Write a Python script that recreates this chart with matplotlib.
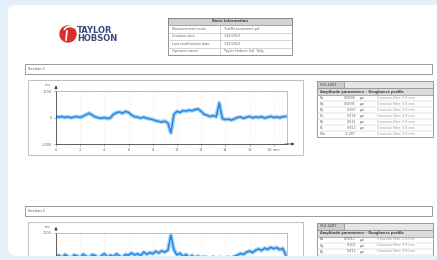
import numpy as np
import matplotlib
matplotlib.use("Agg")
import matplotlib.pyplot as plt
from matplotlib.patches import Rectangle, FancyBboxPatch, Circle, Arc

W, H = 437, 260
BG = '#e5eff9'
BLUE = '#2388e2'
CARD_BOTTOM = 256

# ---- data ----
positions_mm = np.arange(77) * 0.25
profile_1 = [30, 10, 40, 0, 25, -10, 20, 35, 5, 50, 110,
             160, 90, 20,
             -10, -30, 0, -40, -15,
             120, 180, 210, 160, 230, 190,
             90, 30, 10, -20, 15, -30, -50, -80,
             -120, -150, -170, -140, -210,
             -580,
             120,
             230, 190, 260, 240, 280, 250, 300, 320,
             230, 120, 80, 40, 70, 30,
             550,
             -40, -80, -60, -100, -50,
             0, 20, -30, 10, 40, -10, 20, 0, 30, -20, 10, 40, 0, 20, -10, 30, 40]
profile_2 = [80, 140, 40, 170, 90, 20, 150, 110, 60, 180, 100,
             50, 160, 130, 30, 120, 200, 70, 140, 90, 190,
             110, 60, 170, 140, 230, 150, 200, 120, 260, 180,
             240, 200, 290, 230, 310, 260, 330,
             900,
             350,
             150, 220, 90, 170, 60, 130, 40, 110, 20, 90, 50,
             0, 80, -20, 60, -40, 30, 70, 10, 100,
             140, 210, 170, 260, 300, 240, 330, 380, 320, 410, 360, 440, 390,
             430, 350, 400, 150]
x_ticks = [0, 2, 4, 6, 8, 10, 12, 14, 16, 18]
x_tick_labels = ['0', '2', '4', '6', '8', '10', '12', '14', '16', '18 mm']
y_ticks = [-1000, 0, 1000]
y_tick_labels = ['-1000', '0', '1000']

info_title = 'Basic information'
info_labels = ['Measurement name', 'Creation date', 'Last modification date', 'Operator name']
info_values = ['TestMeasurement.prf', '1/16/2013', '1/16/2013', 'Taylor Hobson Ltd  Tally']

section_titles = ['Section 1', 'Section 2']
param_names = ['Ra', 'Rq', 'Rp', 'Rv', 'Rz', 'Rt', 'Rsk']
param_units = ['µm', 'µm', 'µm', 'µm', 'µm', 'µm', '']
param_values_1 = ['0.0694', '0.0891', '0.357', '0.274', '0.631', '0.912', '-0.287']
param_values_2 = ['0.0812', '0.101', '0.412', '0.305', '0.717', '1.02', '0.154']
param_filter = 'Gaussian filter, 0.8 mm'

fig = plt.figure(figsize=(W / 100, H / 100), dpi=100)
fig.patch.set_facecolor(BG)
ax = fig.add_axes([0, 0, 1, 1])
ax.set_xlim(0, W)
ax.set_ylim(H, 0)
ax.axis('off')

ax.add_patch(FancyBboxPatch((8, 5), 440, 251, boxstyle='round,pad=0,rounding_size=8',
                            fc='white', ec='none'))

# logo
ax.add_patch(Circle((68, 34), 8, color='#d8302e'))
ax.add_patch(Arc((70, 31), 12, 9, theta1=190, theta2=330, color='white', lw=1.2))
ax.plot([67, 66], [31, 40], color='white', lw=1.2)
ax.text(77, 30.5, 'TAYLOR', fontsize=6, weight='bold', color='#3a4a7c', va='center')
ax.text(77, 38.5, 'HOBSON', fontsize=6, weight='bold', color='#3a4a7c', va='center')
ax.text(72, 15, '- - - - - - - - - - -', fontsize=3, color='#e2e2e2', va='center')

# info table
ax.add_patch(Rectangle((168, 18), 124, 37, fc='white', ec='#808080', lw=0.6))
ax.add_patch(Rectangle((168, 18), 124, 7, fc='#d2d2d2', ec='#808080', lw=0.6))
ax.text(230, 21.5, info_title, fontsize=2.6, weight='bold', ha='center', va='center', color='#444')
for i, (lab, val) in enumerate(zip(info_labels, info_values)):
    y = 25 + i * 7.5
    ax.plot([168, 292], [y, y], color='#b5b5b5', lw=0.4)
    ax.text(172, y + 3.8, lab, fontsize=2.4, va='center', color='#666')
    ax.text(224, y + 3.8, val, fontsize=2.4, va='center', color='#666')
ax.plot([220, 220], [25, 55], color='#b5b5b5', lw=0.4)


def draw_section(dy, title, values, params):
    # title bar
    ax.add_patch(Rectangle((25, 64 + dy), 407, 10, fc='white', ec='#8a8a8a', lw=0.6))
    ax.text(28, 69 + dy, title, fontsize=2.6, va='center', color='#555')
    ax.add_patch(Rectangle((28, 80 + dy), 275, 75, fc='white', ec='#b4b4b4', lw=0.6))

    # parameter table
    ax.add_patch(Rectangle((317, 81 + dy), 116, 56, fc='white', ec='#8a8a8a', lw=0.6))
    ax.add_patch(Rectangle((317, 81 + dy), 116, 7, fc='#e6e6e6', ec='#8a8a8a', lw=0.5))
    ax.add_patch(Rectangle((317, 81 + dy), 27, 7, fc='#cdcdcd', ec='#8a8a8a', lw=0.5))
    ax.text(320, 84.5 + dy, 'ISO 4287', fontsize=2.6, va='center', color='#444')
    ax.add_patch(Rectangle((317, 88 + dy), 116, 7, fc='#dcdcdc', ec='#8a8a8a', lw=0.5))
    ax.text(320, 91.5 + dy, 'Amplitude parameters - Roughness profile', fontsize=2.5,
            weight='bold', va='center', color='#444')
    for i, (n, v, u) in enumerate(zip(param_names, params, param_units)):
        y = 95 + dy + i * 6
        ax.plot([317, 433], [y, y], color='#c8c8c8', lw=0.35)
        if y + 5 > CARD_BOTTOM:
            continue
        ax.text(320, y + 3, n, fontsize=2.4, va='center', color='#666')
        ax.text(356, y + 3, v, fontsize=2.4, va='center', ha='right', color='#666')
        ax.text(360, y + 3, u, fontsize=2.4, va='center', color='#666')
        ax.text(377, y + 3, param_filter, fontsize=2.3, va='center', color='#999')
    if 148 + dy < CARD_BOTTOM:
        ax.text(317, 148 + dy, '- - - - - - - -', fontsize=3, color='#e6e6e6', va='center')

    # profile plot
    top = 91 + dy
    full = top + 53 < CARD_BOTTOM
    pa = fig.add_axes([56 / W, 1 - (top + 53) / H, 231 / W, 53 / H])
    pa.set_facecolor('none')
    pa.plot(positions_mm, values, color='#a9d2f5', lw=3.0, solid_joinstyle='round')
    pa.plot(positions_mm, values, color=BLUE, lw=1.1)
    pa.set_xlim(0, 19.1)
    pa.set_ylim(-1000, 1000)
    pa.set_xticks(x_ticks)
    pa.set_xticklabels(x_tick_labels if full else [''] * len(x_ticks))
    pa.set_yticks(y_ticks)
    pa.set_yticklabels(y_tick_labels if full else ['', '', y_tick_labels[2]])
    pa.tick_params(length=1.5, width=0.4, labelsize=2.5, pad=1.5, colors='#666')
    pa.grid(True, color='#efd9c8', lw=0.4, ls=':')
    for s in ['left', 'bottom']:
        pa.spines[s].set_color('#444')
        pa.spines[s].set_linewidth(0.6)
    for s in ['top', 'right']:
        pa.spines[s].set_color('#a8a8a8')
        pa.spines[s].set_linewidth(0.5)
    pa.annotate('', xy=(0, 1.16), xytext=(0, 0.98), xycoords='axes fraction',
                arrowprops=dict(arrowstyle='-|>', lw=0.6, color='#444', mutation_scale=4))
    if full:
        pa.annotate('', xy=(1.045, 0), xytext=(0.98, 0), xycoords='axes fraction',
                    arrowprops=dict(arrowstyle='-|>', lw=0.6, color='#444', mutation_scale=4))
    pa.text(-0.025, 1.11, 'nm', transform=pa.transAxes, fontsize=2.5, ha='right',
            va='center', color='#666')


draw_section(0, section_titles[0], profile_1, param_values_1)
ax.text(30, 200, '- - -', fontsize=3, color='#e2e2e2', va='center')
draw_section(141.5, section_titles[1], profile_2, param_values_2)

# bottom edge of the card
ov = fig.add_axes([0, 0, 1, 1], zorder=10)
ov.set_xlim(0, W)
ov.set_ylim(H, 0)
ov.axis('off')
ov.add_patch(Rectangle((0, CARD_BOTTOM), W, 5, fc=BG, ec='none'))
ov.add_patch(Rectangle((8, CARD_BOTTOM - 8), 8, 8, fc=BG, ec='none'))
ov.add_patch(Circle((16, CARD_BOTTOM - 8), 8, fc='white', ec='none'))

fig.savefig('out.png', dpi=100, facecolor=BG)
